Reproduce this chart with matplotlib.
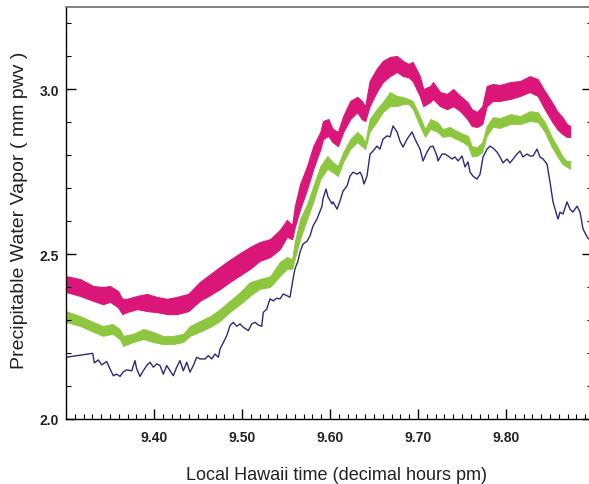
import matplotlib
matplotlib.use("Agg")
import matplotlib.pyplot as plt
from matplotlib.ticker import MultipleLocator, FormatStrFormatter

# ---------------- data ----------------
pink_x = [9.300, 9.316, 9.331, 9.342, 9.350, 9.359, 9.364, 9.369, 9.381, 9.392,
          9.403, 9.415, 9.426, 9.439, 9.452, 9.464, 9.475, 9.486, 9.498, 9.509,
          9.520, 9.532, 9.543, 9.551, 9.557, 9.560, 9.566, 9.574, 9.581, 9.589,
          9.592, 9.598, 9.603, 9.609, 9.615, 9.623, 9.631, 9.636, 9.640, 9.645,
          9.653, 9.660, 9.668, 9.676, 9.683, 9.689, 9.694, 9.702, 9.706, 9.714,
          9.717, 9.725, 9.733, 9.740, 9.748, 9.756, 9.761, 9.767, 9.773, 9.778,
          9.785, 9.793, 9.805, 9.816, 9.827, 9.836, 9.844, 9.852, 9.858, 9.864,
          9.869, 9.873]
pink_hi = [2.433, 2.424, 2.403, 2.400, 2.403, 2.388, 2.364, 2.364, 2.373, 2.379,
           2.370, 2.364, 2.370, 2.379, 2.415, 2.439, 2.461, 2.482, 2.503, 2.521,
           2.536, 2.545, 2.573, 2.603, 2.588, 2.645, 2.712, 2.767, 2.827, 2.870,
           2.903, 2.909, 2.879, 2.870, 2.918, 2.964, 2.976, 2.964, 2.948, 3.024,
           3.061, 3.085, 3.097, 3.100, 3.085, 3.076, 3.082, 3.039, 3.000, 3.009,
           3.021, 2.991, 2.985, 3.000, 2.979, 2.961, 2.939, 2.930, 2.948, 3.009,
           3.015, 3.012, 3.021, 3.024, 3.039, 3.030, 2.994, 2.961, 2.933, 2.915,
           2.894, 2.888]
pink_lo = [2.385, 2.373, 2.358, 2.348, 2.355, 2.339, 2.318, 2.324, 2.333, 2.327,
           2.324, 2.318, 2.318, 2.327, 2.358, 2.376, 2.394, 2.415, 2.436, 2.455,
           2.479, 2.491, 2.515, 2.552, 2.545, 2.582, 2.636, 2.697, 2.758, 2.818,
           2.848, 2.858, 2.839, 2.827, 2.870, 2.909, 2.930, 2.909, 2.903, 2.948,
           2.991, 3.021, 3.039, 3.052, 3.039, 3.036, 3.024, 2.979, 2.948, 2.961,
           2.970, 2.948, 2.939, 2.948, 2.933, 2.909, 2.888, 2.885, 2.894, 2.948,
           2.964, 2.964, 2.970, 2.979, 2.991, 2.979, 2.939, 2.903, 2.879, 2.864,
           2.855, 2.855]

green_x = [9.300, 9.316, 9.331, 9.342, 9.353, 9.361, 9.365, 9.376, 9.388, 9.399,
           9.410, 9.422, 9.433, 9.441, 9.452, 9.464, 9.475, 9.486, 9.498, 9.509,
           9.520, 9.532, 9.543, 9.551, 9.557, 9.560, 9.566, 9.574, 9.581, 9.589,
           9.597, 9.603, 9.609, 9.615, 9.623, 9.631, 9.636, 9.640, 9.645, 9.653,
           9.660, 9.668, 9.676, 9.683, 9.689, 9.694, 9.702, 9.708, 9.714, 9.722,
           9.728, 9.736, 9.744, 9.751, 9.757, 9.761, 9.767, 9.773, 9.778, 9.785,
           9.793, 9.805, 9.816, 9.827, 9.836, 9.844, 9.852, 9.858, 9.864, 9.869,
           9.873]
green_hi = [2.327, 2.312, 2.294, 2.282, 2.288, 2.273, 2.252, 2.258, 2.273, 2.264,
            2.252, 2.252, 2.258, 2.282, 2.297, 2.312, 2.333, 2.358, 2.385, 2.415,
            2.424, 2.433, 2.476, 2.491, 2.485, 2.539, 2.606, 2.652, 2.706, 2.767,
            2.797, 2.779, 2.767, 2.809, 2.848, 2.870, 2.858, 2.839, 2.909, 2.939,
            2.961, 2.991, 2.979, 2.976, 2.970, 2.964, 2.918, 2.879, 2.909, 2.900,
            2.879, 2.885, 2.873, 2.864, 2.858, 2.827, 2.824, 2.839, 2.888, 2.915,
            2.912, 2.924, 2.918, 2.933, 2.930, 2.900, 2.855, 2.827, 2.797, 2.782,
            2.782]
green_lo = [2.294, 2.282, 2.264, 2.252, 2.258, 2.242, 2.221, 2.233, 2.242, 2.233,
            2.227, 2.227, 2.233, 2.252, 2.264, 2.279, 2.297, 2.324, 2.348, 2.373,
            2.394, 2.400, 2.433, 2.455, 2.455, 2.485, 2.545, 2.606, 2.658, 2.727,
            2.758, 2.748, 2.736, 2.779, 2.818, 2.839, 2.827, 2.818, 2.870, 2.900,
            2.930, 2.948, 2.948, 2.955, 2.955, 2.939, 2.888, 2.855, 2.879, 2.870,
            2.855, 2.858, 2.848, 2.839, 2.827, 2.797, 2.797, 2.809, 2.858, 2.885,
            2.882, 2.894, 2.894, 2.903, 2.900, 2.870, 2.824, 2.797, 2.773, 2.764,
            2.758]

blue_x = [9.3000, 9.3303, 9.3322, 9.3367, 9.3406, 9.3462, 9.3500, 9.3538, 9.3576, 9.3614,
          9.3651, 9.3690, 9.3747, 9.3784, 9.3803, 9.3841, 9.3878, 9.3917, 9.3955, 9.3992,
          9.4031, 9.4068, 9.4106, 9.4144, 9.4182, 9.4219, 9.4258, 9.4295, 9.4333, 9.4372,
          9.4409, 9.4447, 9.4485, 9.4523, 9.4580, 9.4617, 9.4656, 9.4693, 9.4731, 9.4750,
          9.4788, 9.4826, 9.4864, 9.4901, 9.4940, 9.4977, 9.5015, 9.5072, 9.5110, 9.5148,
          9.5185, 9.5224, 9.5242, 9.5281, 9.5318, 9.5356, 9.5394, 9.5432, 9.5469, 9.5508,
          9.5545, 9.5583, 9.5602, 9.5636, 9.5659, 9.5693, 9.5739, 9.5773, 9.5807, 9.5852,
          9.5909, 9.5920, 9.5955, 9.5977, 9.6023, 9.6034, 9.6080, 9.6114, 9.6148, 9.6193,
          9.6227, 9.6261, 9.6307, 9.6341, 9.6364, 9.6386, 9.6420, 9.6455, 9.6489, 9.6534,
          9.6568, 9.6602, 9.6648, 9.6682, 9.6716, 9.6761, 9.6795, 9.6830, 9.6875, 9.6932,
          9.6966, 9.7023, 9.7057, 9.7102, 9.7136, 9.7170, 9.7216, 9.7227, 9.7273, 9.7307,
          9.7341, 9.7386, 9.7420, 9.7455, 9.7500, 9.7534, 9.7568, 9.7591, 9.7625, 9.7670,
          9.7705, 9.7739, 9.7784, 9.7818, 9.7852, 9.7898, 9.7932, 9.7966, 9.8011, 9.8045,
          9.8080, 9.8125, 9.8159, 9.8193, 9.8239, 9.8273, 9.8307, 9.8352, 9.8386, 9.8420,
          9.8466, 9.8500, 9.8534, 9.8580, 9.8591, 9.8614, 9.8648, 9.8693, 9.8727, 9.8761,
          9.8807, 9.8841, 9.8875, 9.8920, 9.8943]
blue_y = [2.187, 2.199, 2.170, 2.179, 2.164, 2.174, 2.152, 2.131, 2.136, 2.129,
          2.143, 2.149, 2.146, 2.177, 2.152, 2.129, 2.146, 2.162, 2.172, 2.157,
          2.167, 2.162, 2.136, 2.162, 2.146, 2.131, 2.157, 2.177, 2.146, 2.172,
          2.142, 2.162, 2.187, 2.182, 2.182, 2.192, 2.182, 2.197, 2.187, 2.212,
          2.232, 2.252, 2.283, 2.293, 2.281, 2.288, 2.278, 2.268, 2.288, 2.293,
          2.285, 2.281, 2.323, 2.333, 2.364, 2.358, 2.366, 2.364, 2.379, 2.374,
          2.369, 2.429, 2.455, 2.479, 2.506, 2.530, 2.539, 2.555, 2.585, 2.606,
          2.645, 2.667, 2.697, 2.673, 2.652, 2.658, 2.636, 2.661, 2.691, 2.706,
          2.736, 2.748, 2.742, 2.748, 2.736, 2.712, 2.736, 2.803, 2.812, 2.827,
          2.818, 2.848, 2.858, 2.855, 2.888, 2.870, 2.842, 2.824, 2.848, 2.870,
          2.848, 2.818, 2.782, 2.809, 2.824, 2.827, 2.797, 2.782, 2.803, 2.803,
          2.797, 2.788, 2.794, 2.782, 2.797, 2.764, 2.779, 2.748, 2.736, 2.727,
          2.742, 2.794, 2.818, 2.827, 2.821, 2.809, 2.794, 2.776, 2.788, 2.776,
          2.788, 2.803, 2.812, 2.794, 2.803, 2.797, 2.797, 2.818, 2.794, 2.788,
          2.773, 2.718, 2.658, 2.615, 2.606, 2.627, 2.621, 2.658, 2.636, 2.627,
          2.645, 2.627, 2.576, 2.552, 2.545]

x_ticks = [9.40, 9.50, 9.60, 9.70, 9.80]
y_ticks = [2.0, 2.5, 3.0]

PINK = "#DA1679"
GREEN = "#8DC63F"
NAVY = "#2B2A7C"

# ---------------- figure ----------------
plt.rcParams['font.family'] = ['Liberation Sans', 'DejaVu Sans']
fig = plt.figure(figsize=(5.89, 4.85), dpi=100)
W, H = 589, 485
ax = fig.add_axes([66 / W, 65 / H, (592 - 66) / W, (420 - 8) / H])

ax.fill_between(pink_x, pink_lo, pink_hi, color=PINK, lw=0.8, edgecolor=PINK)
ax.fill_between(green_x, green_lo, green_hi, color=GREEN, lw=0.6, edgecolor=GREEN)
ax.plot(blue_x, blue_y, color=NAVY, lw=1.0)

ax.set_xlim(9.30, 9.8977)
ax.set_ylim(2.0, 3.2485)

ax.set_xticks(x_ticks)
ax.set_yticks(y_ticks)
ax.xaxis.set_minor_locator(MultipleLocator(0.01))
ax.yaxis.set_minor_locator(MultipleLocator(0.1))
ax.xaxis.set_major_formatter(FormatStrFormatter('%.2f'))
ax.yaxis.set_major_formatter(FormatStrFormatter('%.1f'))

ax.tick_params(axis='x', which='major', direction='in', length=7, width=1,
               top=False, pad=8, labelsize=10)
ax.tick_params(axis='x', which='minor', direction='in', length=3.5, width=0.8, top=False)
ax.tick_params(axis='y', which='major', direction='in', length=7, width=1,
               right=True, pad=5, labelsize=10)
ax.tick_params(axis='y', which='minor', direction='in', length=3.5, width=0.8, right=True)
for lab in ax.get_xticklabels() + ax.get_yticklabels():
    lab.set_fontweight('bold')
    lab.set_color('#222222')

ax.spines['right'].set_visible(False)
ax.spines['top'].set_color('#777777')
ax.spines['top'].set_linewidth(1.3)
ax.spines['left'].set_linewidth(1.0)
ax.spines['bottom'].set_linewidth(1.0)

fig.text(337 / W, 1 - 476 / H, "Local Hawaii time (decimal hours pm)",
         ha='center', va='center', fontsize=13, color='#222222')
fig.text(20 / W, 1 - 210 / H, "Precipitable Water Vapor ( mm pwv )",
         ha='center', va='center', rotation=90, fontsize=14, color='#222222')

fig.savefig("out.png", dpi=100)
